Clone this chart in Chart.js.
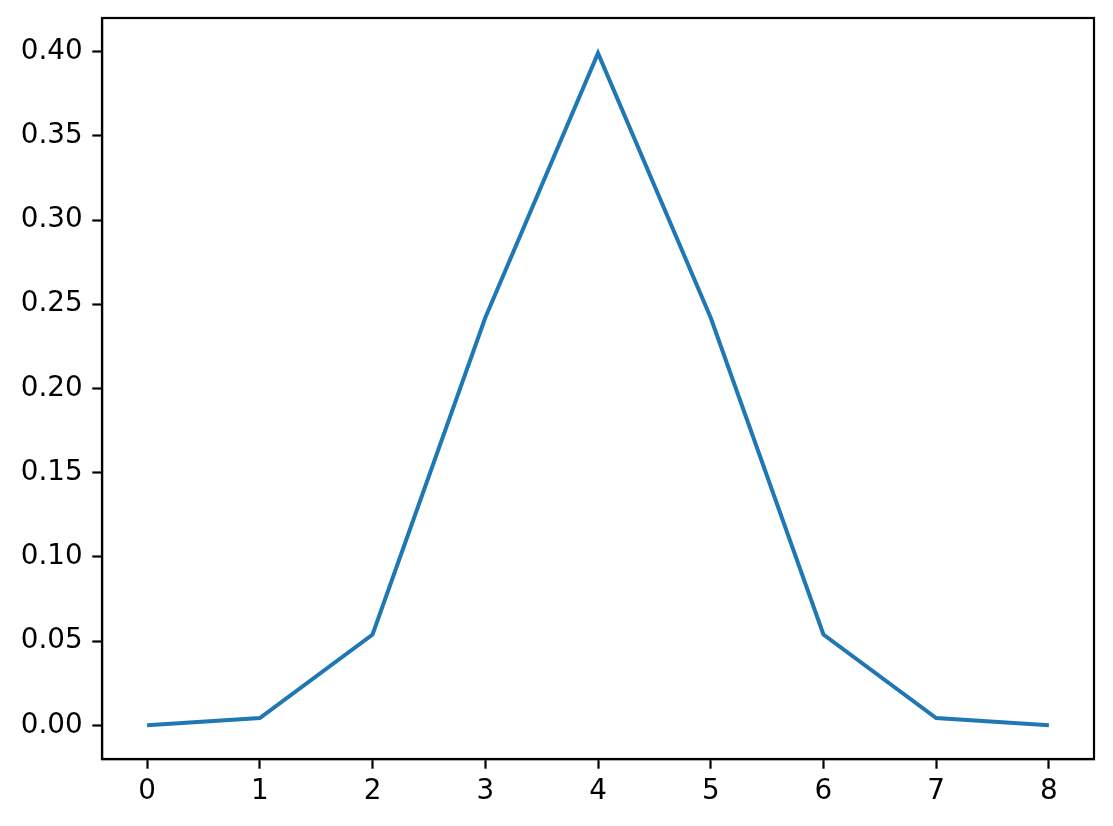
<!DOCTYPE html>
<html>
<head>
<meta charset="utf-8">
<script src="https://cdn.jsdelivr.net/npm/chart.js@4"></script>
<style>
  html, body { margin: 0; padding: 0; background: #fff; }
  #wrap { width: 1113px; height: 826px; }
</style>
</head>
<body>
<div id="wrap"><canvas id="pdfChart" width="1113" height="826"></canvas></div>
<script>
const xValues = [0, 1, 2, 3, 4, 5, 6, 7, 8];
const yValues = [0.0001, 0.0044, 0.054, 0.242, 0.399, 0.242, 0.054, 0.0044, 0.0001];
const xTicks = [0, 1, 2, 3, 4, 5, 6, 7, 8];
const yTicks = [0, 0.05, 0.10, 0.15, 0.20, 0.25, 0.30, 0.35, 0.40];

// draws the top and right edges of the axes box
const frame = {
    id: "frame",
    afterDraw(chart) {
        const { ctx, chartArea: a } = chart;
        ctx.save();
        ctx.strokeStyle = "#000";
        ctx.lineWidth = 2.2;
        ctx.strokeRect(a.left, a.top, a.right - a.left, a.bottom - a.top);
        ctx.restore();
    }
};

const tickFont = { family: "DejaVu Sans", size: 27.8 };

new Chart(document.getElementById("pdfChart"), {
    type: "line",
    data: {
        datasets: [{
            data: xValues.map((x, i) => ({ x: x, y: yValues[i] })),
            borderColor: "#1f77b4",
            borderWidth: 4,
            pointRadius: 0,
            tension: 0,
            fill: false
        }]
    },
    options: {
        responsive: false,
        animation: false,
        devicePixelRatio: 1,
        layout: { padding: { left: 0, right: 19, top: 18, bottom: 0 } },
        plugins: { legend: { display: false }, tooltip: { enabled: false } },
        scales: {
            x: {
                type: "linear",
                min: -0.4,
                max: 8.4,
                afterBuildTicks: s => { s.ticks = xTicks.map(v => ({ value: v })); },
                afterFit: s => { s.height = 67; s.paddingLeft = 0; s.paddingRight = 0; },
                ticks: { color: "#000", font: tickFont, padding: 6, maxRotation: 0 },
                grid: { drawOnChartArea: false, tickLength: 9.7, tickColor: "#000", tickWidth: 2.2 },
                border: { color: "#000", width: 2.2 }
            },
            y: {
                type: "linear",
                min: -0.0199,
                max: 0.4199,
                afterBuildTicks: s => { s.ticks = yTicks.map(v => ({ value: v })); },
                afterFit: s => { s.width = 102; s.paddingTop = 0; s.paddingBottom = 0; },
                ticks: { color: "#000", font: tickFont, padding: 9.7, callback: v => v.toFixed(2) },
                grid: { drawOnChartArea: false, tickLength: 9.7, tickColor: "#000", tickWidth: 2.2 },
                border: { color: "#000", width: 2.2 }
            }
        }
    },
    plugins: [frame]
});
</script>
</body>
</html>
